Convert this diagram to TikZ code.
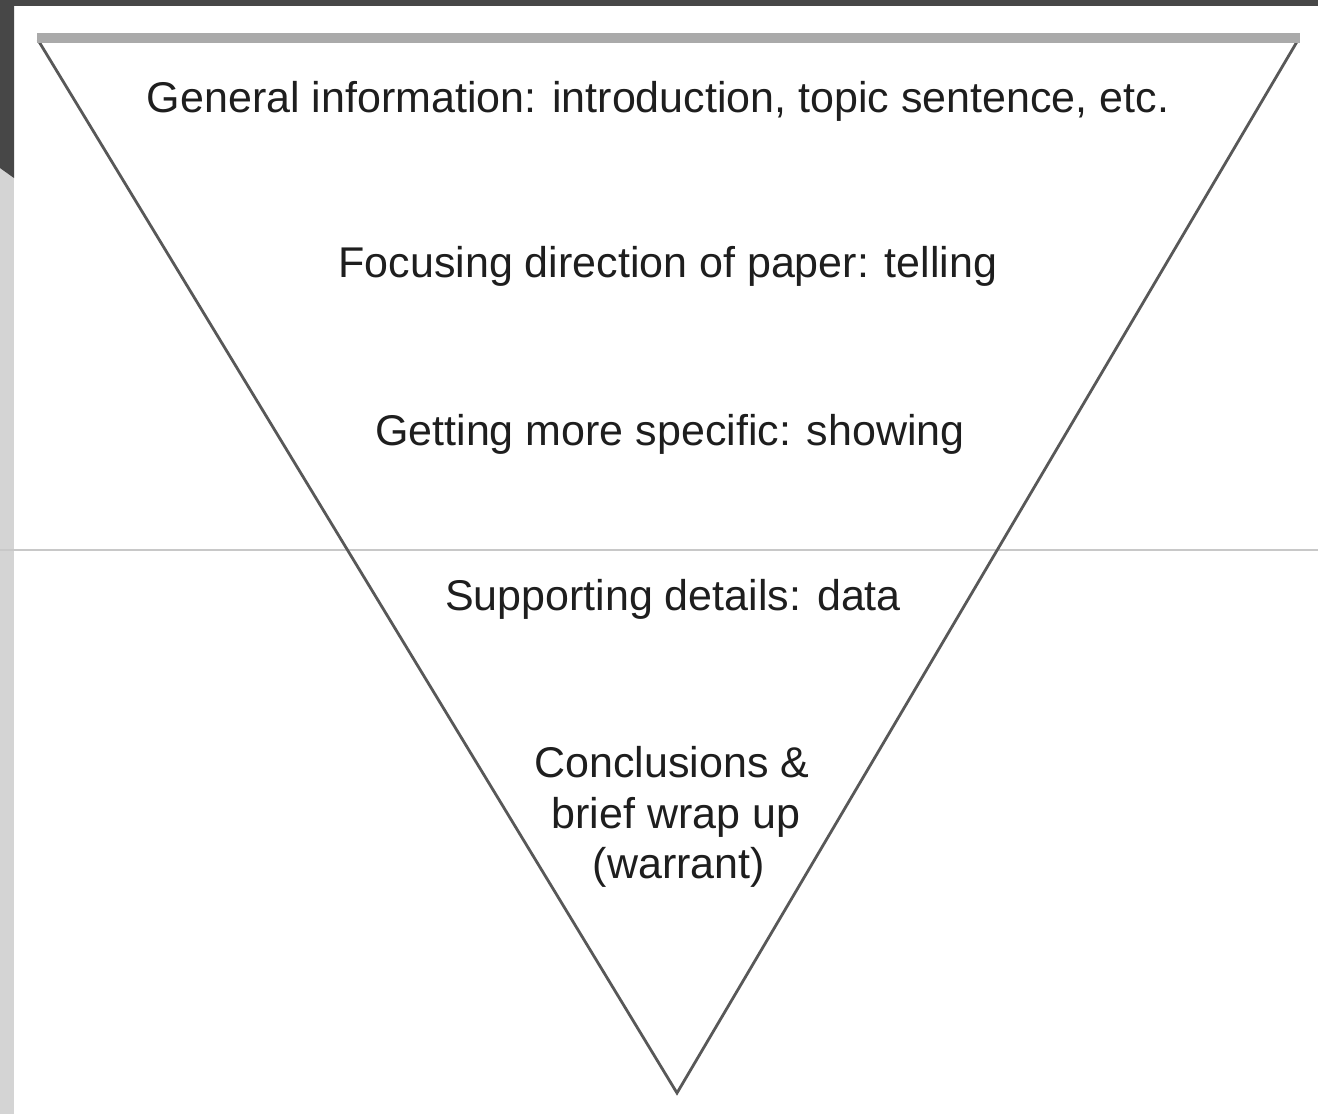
\documentclass[tikz,border=0pt]{standalone}
\usepackage{fontspec}
\setmainfont{Liberation Sans}
\begin{document}
\begin{tikzpicture}[x=1pt,y=-1pt,
  lbl/.style={anchor=base,inner sep=0pt,text=txtgray,font=\fontsize{43}{50}\selectfont},
  edge/.style={draw=edgegray,line width=2.8pt},
]
\definecolor{txtgray}{HTML}{1E1E1E}
\definecolor{edgegray}{HTML}{585858}
\definecolor{bargray}{HTML}{AAAAAA}
\definecolor{darkframe}{HTML}{474747}
\definecolor{sidegray}{HTML}{D4D4D4}
\definecolor{rulegray}{HTML}{C8C8C8}
% canvas
\fill[white] (0,0) rectangle (1318,1114);
\useasboundingbox (0,0) rectangle (1318,1114);
% side and top frame
\fill[sidegray] (0,0) rectangle (14,1114);
\fill[darkframe] (0,0) -- (14,0) -- (14,178) -- (0,168) -- cycle;
\fill[darkframe] (0,0) rectangle (1318,6);
% horizontal rule
\draw[rulegray,line width=1.3pt] (0,550) -- (1318,550);
% triangle
\coordinate (tl) at (38,40);
\coordinate (tr) at (1298,40);
\coordinate (bt) at (677,1093);
\draw[edge] (tl) -- (bt) -- (tr);
\fill[bargray] (37,33) rectangle (1300,43);
% labels
\node[lbl] (t1) at (658,112) {General information: introduction, topic sentence, etc.};
\node[lbl] (t2) at (668,277) {Focusing direction of paper: telling};
\node[lbl] (t3) at (670,445) {Getting more specific: showing};
\node[lbl] (t4) at (673,610) {Supporting details: data};
\node[lbl] (t5a) at (672,777) {Conclusions \&};
\node[lbl] (t5b) at (676,828) {brief wrap up};
\node[lbl] (t5c) at (679,878) {(warrant)};
\end{tikzpicture}
\end{document}
